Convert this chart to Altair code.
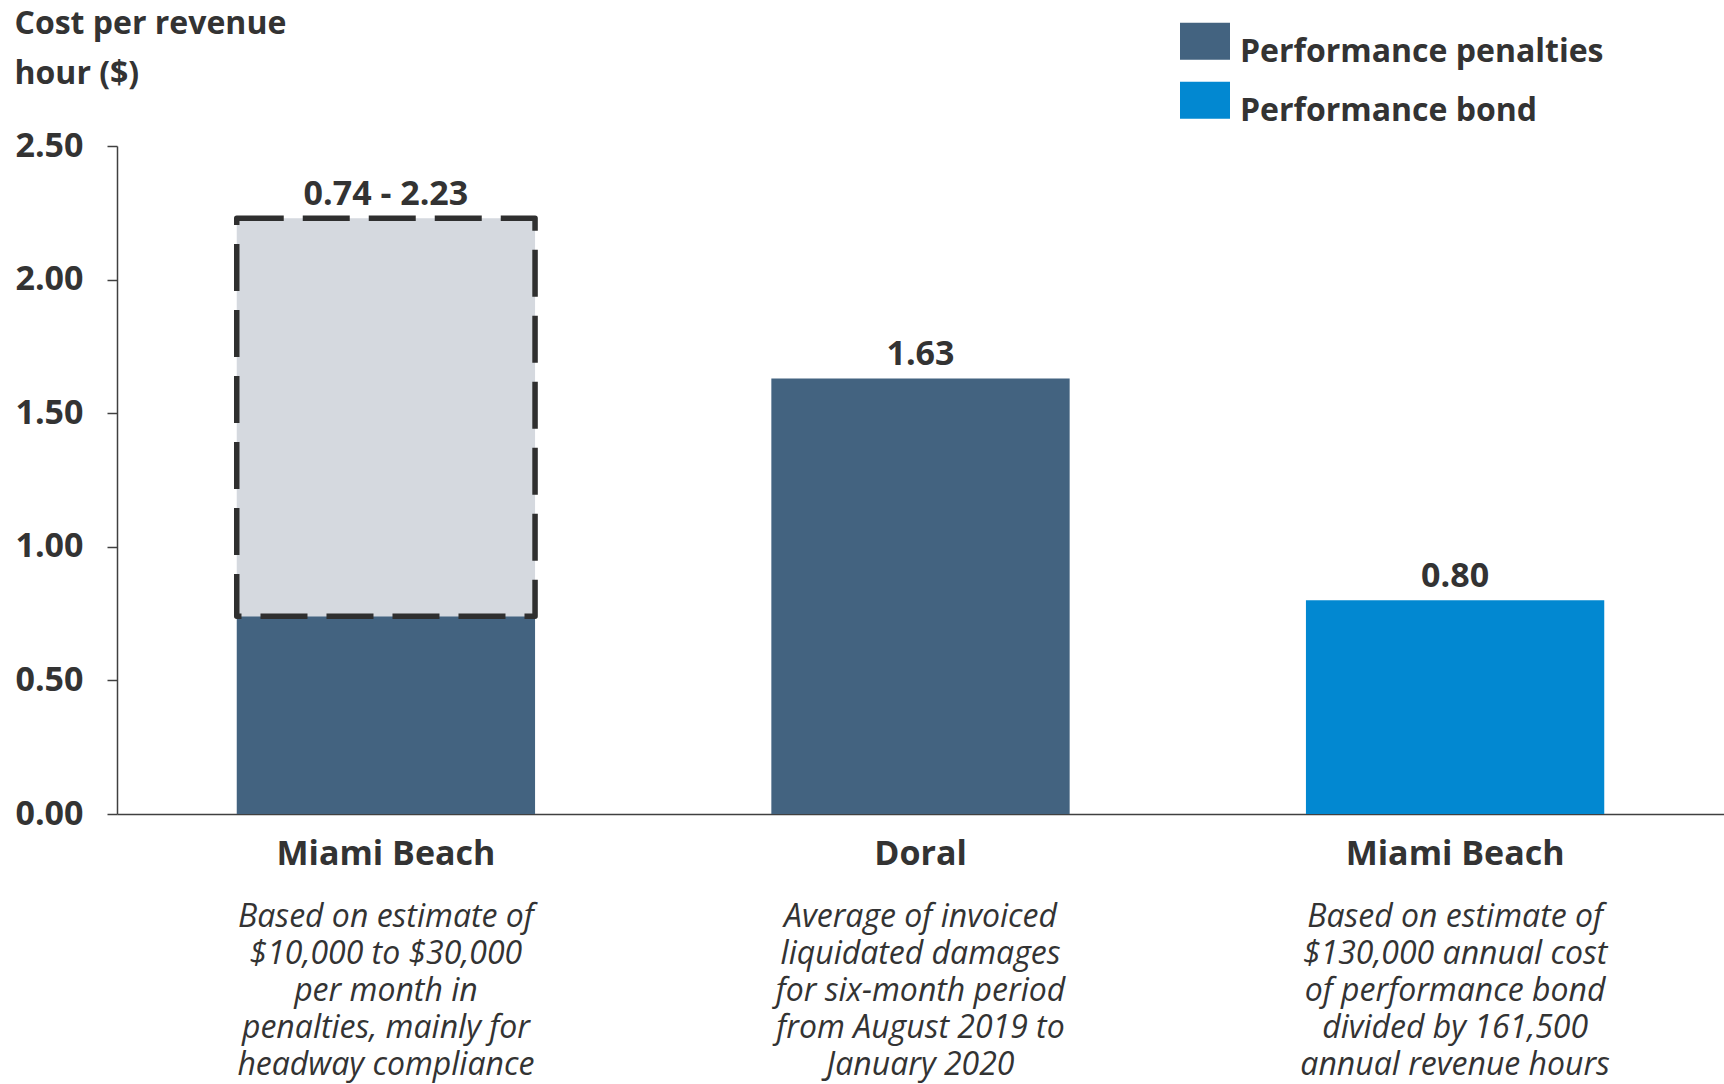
import altair as alt
import pandas as pd

# ---- data ----
keys = ["Miami Beach|1", "Doral|2", "Miami Beach|3"]
cities = ["Miami Beach", "Doral", "Miami Beach"]
series = ["Performance penalties", "Performance penalties", "Performance bond"]
values = [0.74, 1.63, 0.80]
value_labels = ["0.74 - 2.23", "1.63", "0.80"]
label_positions = [2.23, 1.63, 0.80]
descriptions = [
    "Based on estimate of\n$10,000 to $30,000\nper month in\npenalties, mainly for\nheadway compliance",
    "Average of invoiced\nliquidated damages\nfor six-month period\nfrom August 2019 to\nJanuary 2020",
    "Based on estimate of\n$130,000 annual cost\nof performance bond\ndivided by 161,500\nannual revenue hours",
]
range_key = ["Miami Beach|1"]
range_low = [0.74]
range_high = [2.23]
legend_series = ["Performance penalties", "Performance bond"]
legend_colors = ["#436380", "#0288d1"]
y_ticks = [0.0, 0.5, 1.0, 1.5, 2.0, 2.5]

df = pd.DataFrame({
    "key": keys, "city": cities, "series": series, "value": values,
    "label": value_labels, "label_y": label_positions, "desc": descriptions,
})
rng = pd.DataFrame({"key": range_key, "low": range_low, "high": range_high})

TEXT = "#333333"
AXIS = "#404040"
W, H = 1607, 668

x_enc = alt.X(
    "key:N", sort=keys, title=None,
    scale=alt.Scale(paddingInner=0.442, paddingOuter=0.224),
    axis=alt.Axis(
        labelExpr="split(datum.value, '|')[0]", labelAngle=0, ticks=False,
        labelPadding=23, labelFontSize=34, labelFontWeight="bold",
        labelColor=TEXT, domainColor=AXIS, domainWidth=1.5, labelLimit=500,
    ),
)
y_scale = alt.Scale(domain=[0, 2.5], nice=False)
y_axis = alt.Axis(
    values=y_ticks, format=".2f", grid=False,
    labelFontSize=34, labelFontWeight="bold", labelColor=TEXT, labelPadding=24,
    tickSize=10, tickWidth=1.5, tickColor=AXIS, domainColor=AXIS, domainWidth=1.5,
    title=["Cost per revenue", "hour ($)"], titleAngle=0, titleAlign="left",
    titleBaseline="alphabetic", titleX=-103, titleY=-113, titleFontSize=32,
    titleFontWeight="bold", titleColor=TEXT, titleLineHeight=50,
)

base = alt.Chart(df)

bars = base.mark_bar().encode(
    x=x_enc,
    y=alt.Y("value:Q", scale=y_scale, axis=y_axis),
    color=alt.Color(
        "series:N",
        scale=alt.Scale(domain=legend_series, range=legend_colors),
        legend=alt.Legend(
            title=None, orient="none", legendX=1063, legendY=-119,
            symbolType="M-1,-1.17H1V0.31H-1Z", symbolSize=2500,
            symbolStrokeWidth=0, symbolOpacity=1,
            labelFontSize=32, labelFontWeight="bold", labelColor=TEXT,
            labelBaseline="middle", labelOffset=10, rowPadding=13,
            labelLimit=600,
        ),
    ),
)

box = alt.Chart(rng).mark_bar(
    fill="#d5d9df", stroke="#2f2f2f", strokeWidth=5.5, strokeDash=[47, 19],
    strokeJoin="round",
).encode(
    x=alt.X("key:N", sort=keys),
    y=alt.Y("low:Q", scale=y_scale),
    y2="high:Q",
)

value_text = base.mark_text(
    fontSize=34, fontWeight="bold", color=TEXT, baseline="alphabetic", dy=-13,
).encode(
    x=alt.X("key:N", sort=keys),
    y=alt.Y("label_y:Q", scale=y_scale),
    text="label:N",
)

desc_text = base.mark_text(
    fontSize=32, fontStyle="italic", fontWeight="normal", color=TEXT,
    baseline="alphabetic", lineBreak="\n", lineHeight=37,
).encode(
    x=alt.X("key:N", sort=keys),
    y=alt.value(H + 113),
    text="desc:N",
)

chart = alt.layer(bars, box, value_text, desc_text).properties(
    width=W, height=H,
    autosize=alt.AutoSizeParams(type="none"),
    padding={"left": 117, "top": 146, "right": 0, "bottom": 270},
).configure(font="Open Sans").configure_view(strokeWidth=0)

chart.save("out.html", embed_options={"renderer": "svg", "actions": False})
